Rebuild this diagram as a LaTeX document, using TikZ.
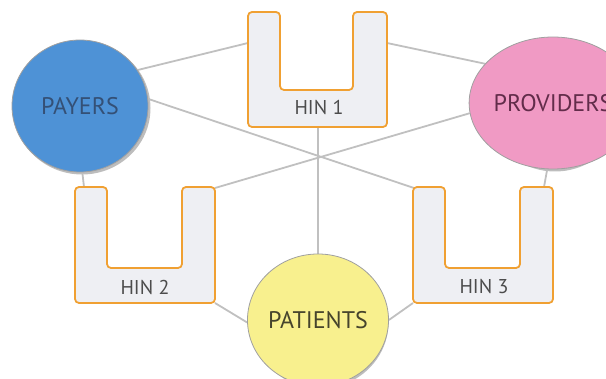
\documentclass[tikz,border=0pt]{standalone}
\usepackage{fontspec}
\setmainfont{PT Sans}
\usetikzlibrary{backgrounds,shapes.geometric}
\definecolor{payerblue}{RGB}{78,146,214}
\definecolor{payertext}{RGB}{52,80,118}
\definecolor{provpink}{RGB}{240,154,196}
\definecolor{provtext}{RGB}{98,44,74}
\definecolor{patyellow}{RGB}{248,240,142}
\definecolor{pattext}{RGB}{70,68,44}
\definecolor{hinorange}{RGB}{240,160,50}
\definecolor{hinfill}{RGB}{238,239,243}
\definecolor{linkgray}{RGB}{192,192,192}
\definecolor{rimgray}{RGB}{160,160,160}
\tikzset{
  party/.style={ellipse, minimum width=136pt, minimum height=132pt,
    inner sep=0pt, draw=rimgray, line width=0.8pt,
    font=\fontsize{24}{24}\selectfont},
  rim/.style={ellipse, minimum width=137pt, minimum height=133pt,
    inner sep=0pt, fill=rimgray!70},
  hinbox/.style={draw=hinorange, fill=hinfill, line width=1.8pt,
    rounded corners=4pt},
  hinlabel/.style={font=\fontsize{20}{20}\selectfont, text=black!70},
  link/.style={draw=linkgray, line width=1.8pt}
}
\begin{document}
\begin{tikzpicture}[x=1pt, y=-1pt]
\useasboundingbox (0,0) rectangle (606,379);

% parties, with a soft grey rim below and to the right
\node[rim] at (82,108) {};
\node[party, fill=payerblue, text=payertext] (payers) at (80,106) {PAYERS};
\node[rim] at (555,105) {};
\node[party, fill=provpink, text=provtext] (providers) at (553,103) {PROVIDERS};
\node[rim] at (320,322) {};
\node[party, fill=patyellow, text=pattext] (patients) at (318,320) {PATIENTS};

% health information networks (U-shaped trays)
\draw[hinbox] (248,12) -- (280,12) -- (280,90) -- (353,90) -- (353,12)
  -- (387,12) -- (387,127) -- (248,127) -- cycle;
\node[hinlabel] (hin1) at (319,107) {HIN 1};
\coordinate (hin1w) at (248,43);
\coordinate (hin1e) at (387,43);
\coordinate (hin1s) at (318,127);

\draw[hinbox] (75,187) -- (107,187) -- (107,268) -- (182,268) -- (182,187)
  -- (215,187) -- (215,303) -- (75,303) -- cycle;
\node[hinlabel] (hin2) at (145,287) {HIN 2};
\coordinate (hin2nw) at (84,187);
\coordinate (hin2ne) at (215,188);
\coordinate (hin2se) at (215,303);

\draw[hinbox] (413,187) -- (445,187) -- (445,268) -- (520,268) -- (520,187)
  -- (553,187) -- (553,303) -- (413,303) -- cycle;
\node[hinlabel] (hin3) at (484,287) {HIN 3};
\coordinate (hin3nw) at (414,188);
\coordinate (hin3ne) at (544,187);
\coordinate (hin3sw) at (413,303);

% connections between parties and networks
\begin{scope}[on background layer]
  \draw[link] (payers.32) -- (hin1w);
  \draw[link] (hin1e) -- (providers.150);
  \draw[link] (payers.6) -- (hin3nw);
  \draw[link] (providers.187) -- (hin2ne);
  \draw[link] (hin1s) -- (patients.north);
  \draw[link] (payers.272) -- (hin2nw);
  \draw[link] (providers.265) -- (hin3ne);
  \draw[link] (hin2se) -- (patients.182);
  \draw[link] (hin3sw) -- (patients.east);
\end{scope}
\end{tikzpicture}
\end{document}
